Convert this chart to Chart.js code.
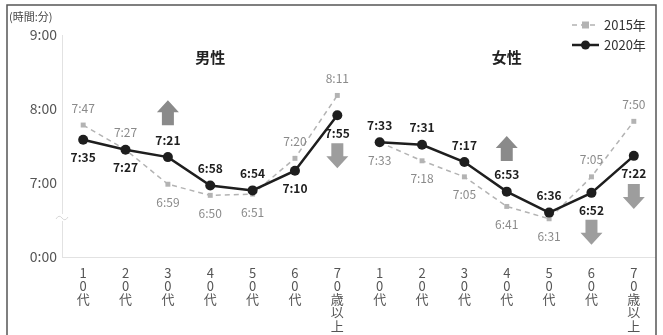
<!DOCTYPE html>
<html>
<head>
<meta charset="utf-8">
<script src="https://cdn.jsdelivr.net/npm/chart.js@4.4.1/dist/chart.umd.min.js"></script>
<style>
  html, body { margin: 0; padding: 0; background: #fff; }
  #wrap { width: 663px; height: 335px; }
</style>
</head>
<body>
<div id="wrap"><canvas id="sleepChart" width="663" height="335"></canvas></div>
<script>
// age groups, stacked vertically under the axis
const ageLabels = [
  ['1', '0', '代'], ['2', '0', '代'], ['3', '0', '代'], ['4', '0', '代'],
  ['5', '0', '代'], ['6', '0', '代'], ['7', '0', '歳', '以', '上']
]
const groupTitles = ['男性', '女性']
const seriesNames = ['2015年', '2020年']

// sleep time (h:mm)
const male2015 = ['7:47', '7:27', '6:59', '6:50', '6:51', '7:20', '8:11']
const male2020 = ['7:35', '7:27', '7:21', '6:58', '6:54', '7:10', '7:55']
const female2015 = ['7:33', '7:18', '7:05', '6:41', '6:31', '7:05', '7:50']
const female2020 = ['7:33', '7:31', '7:17', '6:53', '6:36', '6:52', '7:22']

// change arrows: category index, direction, level (h:mm) of the arrow centre
const arrows = [
  { i: 2, dir: 'up', at: '7:57' },
  { i: 6, dir: 'down', at: '7:22' },
  { i: 10, dir: 'up', at: '7:28' },
  { i: 12, dir: 'down', at: '6:20' },
  { i: 13, dir: 'down', at: '6:49' }
]

const toMin = (s) => { const p = s.split(':'); return +p[0] * 60 + +p[1] }
const fmt = (v) => Math.floor(v / 60) + ':' + String(v % 60).padStart(2, '0')
const blanks = ageLabels.map(() => null)

const labels = ageLabels.concat(ageLabels)
const FONT = '"Noto Sans CJK JP", "Noto Sans", sans-serif'
const GRAY = '#b3b3b3'
const DARK = '#1e1e1e'

const style2015 = {
  borderColor: GRAY, backgroundColor: GRAY, borderWidth: 1.5, borderDash: [5, 4],
  pointStyle: 'rect', pointRadius: 3.5, pointBackgroundColor: GRAY, pointBorderWidth: 0
}
const style2020 = {
  borderColor: DARK, backgroundColor: DARK, borderWidth: 2.5,
  pointStyle: 'circle', pointRadius: 5, pointBackgroundColor: DARK, pointBorderWidth: 0
}

const datasets = [
  Object.assign({ label: '2015年', data: male2015.map(toMin).concat(blanks), order: 2 }, style2015),
  Object.assign({ label: '2015年', data: blanks.concat(female2015.map(toMin)), order: 2 }, style2015),
  Object.assign({ label: '2020年', data: male2020.map(toMin).concat(blanks), order: 1 }, style2020),
  Object.assign({ label: '2020年', data: blanks.concat(female2020.map(toMin)), order: 1 }, style2020)
]

// value labels, arrows, titles, legend and frame
const decorations = {
  id: 'decorations',
  beforeDatasetsDraw(chart) {
    const ctx = chart.ctx
    const x = chart.scales.x, y = chart.scales.y
    ctx.save()
    arrows.forEach((a) => {
      const cx = x.getPixelForValue(a.i)
      const cy = y.getPixelForValue(toMin(a.at))
      const h = 25, hw = 11, sw = 6, hh = 12
      const s = a.dir === 'up' ? -1 : 1
      const tip = cy + s * h / 2, tail = cy - s * h / 2, neck = tip - s * hh
      ctx.fillStyle = a.dir === 'up' ? '#8a8a8a' : '#9d9d9d'
      ctx.beginPath()
      ctx.moveTo(cx, tip)
      ctx.lineTo(cx + hw, neck)
      ctx.lineTo(cx + sw, neck)
      ctx.lineTo(cx + sw, tail)
      ctx.lineTo(cx - sw, tail)
      ctx.lineTo(cx - sw, neck)
      ctx.lineTo(cx - hw, neck)
      ctx.closePath()
      ctx.fill()
    })
    ctx.restore()
  },
  afterDatasetsDraw(chart) {
    const ctx = chart.ctx
    const x = chart.scales.x, y = chart.scales.y
    ctx.save()
    ctx.textAlign = 'center'
    ctx.textBaseline = 'middle'
    const groups = [[male2015, male2020, false], [female2015, female2020, true]]
    groups.forEach((g, gi) => {
      g[0].forEach((s15, k) => {
        const i = gi * 7 + k
        const v15 = toMin(s15), v20 = toMin(g[1][k])
        const up20 = v20 > v15 || (v20 === v15 && g[2])
        const px = x.getPixelForValue(i)
        ctx.font = '12px ' + FONT
        ctx.fillStyle = '#8a8a8a'
        ctx.fillText(s15, px, y.getPixelForValue(v15) + (up20 ? 18 : -17))
        ctx.font = 'bold 12px ' + FONT
        ctx.fillStyle = DARK
        ctx.fillText(g[1][k], px, y.getPixelForValue(v20) + (up20 ? -17 : 18))
      })
      ctx.font = 'bold 15px ' + FONT
      ctx.fillStyle = '#222'
      ctx.fillText(groupTitles[gi], x.getPixelForValue(gi * 7 + 3), 57)
    })
    ctx.restore()
  },
  afterDraw(chart) {
    const ctx = chart.ctx
    const area = chart.chartArea
    ctx.save()
    // axis break mark
    ctx.fillStyle = '#fff'
    ctx.fillRect(area.left - 3, 214, 7, 7)
    ctx.strokeStyle = '#d8d8d8'
    ctx.lineWidth = 1
    ctx.beginPath()
    ctx.moveTo(area.left - 6, 219)
    ctx.quadraticCurveTo(area.left - 3, 214, area.left, 218)
    ctx.quadraticCurveTo(area.left + 3, 222, area.left + 6, 217)
    ctx.stroke()
    // unit
    ctx.font = '11px ' + FONT
    ctx.fillStyle = '#444'
    ctx.textBaseline = 'middle'
    ctx.textAlign = 'left'
    ctx.fillText('(時間:分)', 9, 17)
    // legend
    const lx = 572, rows = [25, 45]
    rows.forEach((ly, r) => {
      ctx.beginPath()
      if (r === 0) {
        ctx.strokeStyle = GRAY; ctx.lineWidth = 1.5; ctx.setLineDash([5, 4])
      } else {
        ctx.strokeStyle = DARK; ctx.lineWidth = 2.5; ctx.setLineDash([])
      }
      ctx.moveTo(lx, ly); ctx.lineTo(lx + 27, ly); ctx.stroke()
      ctx.setLineDash([])
      ctx.fillStyle = r === 0 ? GRAY : DARK
      if (r === 0) ctx.fillRect(lx + 10, ly - 3.5, 7, 7)
      else { ctx.beginPath(); ctx.arc(lx + 13.5, ly, 4.5, 0, Math.PI * 2); ctx.fill() }
      ctx.font = '13px ' + FONT
      ctx.fillStyle = '#333'
      ctx.fillText(seriesNames[r], lx + 32, ly)
    })
    // frame
    ctx.strokeStyle = '#555'
    ctx.lineWidth = 1.5
    ctx.strokeRect(7, 5, 649, 345)
    ctx.restore()
  }
}

new Chart(document.getElementById('sleepChart'), {
  type: 'line',
  data: { labels: labels, datasets: datasets },
  options: {
    responsive: false,
    animation: false,
    devicePixelRatio: 1,
    spanGaps: false,
    layout: { padding: { top: 35, right: 8, left: 0, bottom: 0 } },
    plugins: { legend: { display: false }, tooltip: { enabled: false } },
    scales: {
      x: {
        type: 'category',
        offset: true,
        grid: { display: false, drawTicks: false },
        border: { display: true, color: '#e2e2e2', width: 1 },
        ticks: {
          color: '#555', autoSkip: false, maxRotation: 0, padding: 9,
          font: { family: FONT, size: 13, lineHeight: 1.02 }
        },
        afterFit: (s) => { s.height = 78 }
      },
      y: {
        min: 360, max: 540,
        grid: { display: false, drawTicks: false },
        border: { display: true, color: '#e2e2e2', width: 1 },
        ticks: {
          stepSize: 60, color: '#555', padding: 5,
          font: { family: FONT, size: 14 },
          callback: (v) => v === 360 ? '0:00' : fmt(v)
        },
        afterFit: (s) => { s.width = 62 }
      }
    }
  },
  plugins: [decorations]
})
</script>
</body>
</html>
